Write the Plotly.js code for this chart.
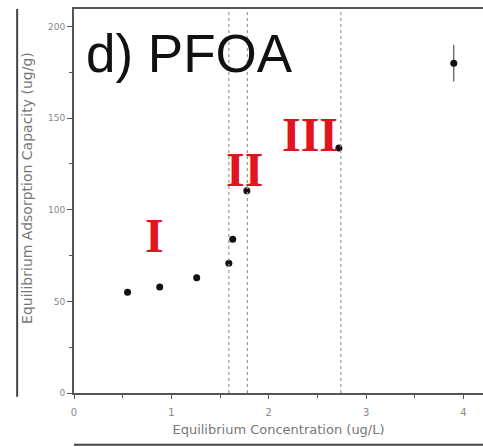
<!DOCTYPE html>
<html><head><meta charset="utf-8">
<script src="https://cdn.plot.ly/plotly-3.0.1.min.js"></script>
<style>html,body{margin:0;padding:0;background:#fff}#chart{width:483px;height:447px}</style>
</head><body><div id="chart"></div>
<script>
// Data
const concentration = [0.55, 0.88, 1.26, 1.59, 1.63, 1.775, 2.72, 3.90];
const capacity      = [55.0, 57.9, 62.9, 70.8, 83.9, 110.4, 133.7, 180.0];
const capacityErr   = [0, 0, 0, 0, 1.5, 0, 0, 10];
const boundaries    = [1.59, 1.78, 2.74];
const stageLabels   = ["I", "II", "III"];
const stageLabelX   = [0.83, 1.75, 2.42];
const stageLabelY   = [86, 122, 141];
const xTicks = [0, 1, 2, 3, 4];
const yTicks = [0, 50, 100, 150, 200];

const trace = {
  x: concentration, y: capacity, type: 'scatter', mode: 'markers',
  marker: {color: '#111', size: 7},
  error_y: {type: 'data', array: capacityErr, visible: true, color: '#333', thickness: 1, width: 0},
  showlegend: false, hoverinfo: 'skip'
};

const shapes = boundaries.map(b => ({
  type: 'line', xref: 'x', yref: 'paper', x0: b, x1: b, y0: 0, y1: 1,
  line: {color: '#999', width: 1.2, dash: 'dot'}
}));
// outer frame lines of the cropped figure
shapes.push({type:'line', xref:'paper', yref:'paper', x0:-0.139, x1:-0.139, y0:-0.01, y1:1.0, line:{color:'#444', width:2}});
shapes.push({type:'line', xref:'paper', yref:'paper', x0:0.0, x1:1.0, y0:-0.135, y1:-0.135, line:{color:'#444', width:2}});

const annotations = stageLabels.map((t, i) => ({
  text: t, x: stageLabelX[i], y: stageLabelY[i], xref: 'x', yref: 'y',
  showarrow: false, xanchor: 'center', yanchor: 'middle',
  font: {family: 'Liberation Serif, serif', size: 48, color: '#e3141d', weight: 'bold'}
}));
annotations.push({
  text: 'd) PFOA', x: 0.025, y: 0.885, xref: 'paper', yref: 'paper',
  showarrow: false, xanchor: 'left', yanchor: 'middle',
  font: {family: 'Liberation Sans, Arial, sans-serif', size: 53, color: '#111'}
});
annotations.push({
  text: 'Equilibrium Adsorption Capacity (ug/g)', x: -0.115, y: 0.534, xref: 'paper', yref: 'paper',
  textangle: -90, showarrow: false, xanchor: 'center', yanchor: 'middle',
  font: {family: 'DejaVu Sans, sans-serif', size: 14, color: '#777'}
});

const layout = {
  width: 483, height: 447,
  margin: {l: 74, r: 0, t: 9, b: 54},
  paper_bgcolor: '#fff', plot_bgcolor: '#fff',
  font: {family: 'DejaVu Sans, sans-serif', color: '#777'},
  xaxis: {
    range: [0, 4.2], tickvals: xTicks, ticktext: xTicks.map(String),
    showgrid: false, zeroline: false, showline: true, mirror: true,
    linecolor: '#555', linewidth: 2, ticks: 'outside', ticklen: 4, tickcolor: '#555',
    minor: {dtick: 0.5, ticks: 'outside', ticklen: 3, tickcolor: '#555'},
    tickfont: {size: 10, color: '#888'}, ticklabelstandoff: 5,
    title: {text: 'Equilibrium Concentration (ug/L)', font: {size: 13, color: '#777'}, standoff: 8}
  },
  yaxis: {
    range: [0, 209.6], tickvals: yTicks, ticktext: yTicks.map(String),
    showgrid: false, zeroline: false, showline: true, mirror: false,
    linecolor: '#555', linewidth: 2, ticks: 'outside', ticklen: 5, tickcolor: '#555',
    minor: {dtick: 25, ticks: 'outside', ticklen: 3, tickcolor: '#555'},
    tickfont: {size: 9, color: '#888'}
  },
  shapes: shapes,
  annotations: annotations
};

Plotly.newPlot('chart', [trace], layout, {staticPlot: true, displayModeBar: false});
</script></body></html>
